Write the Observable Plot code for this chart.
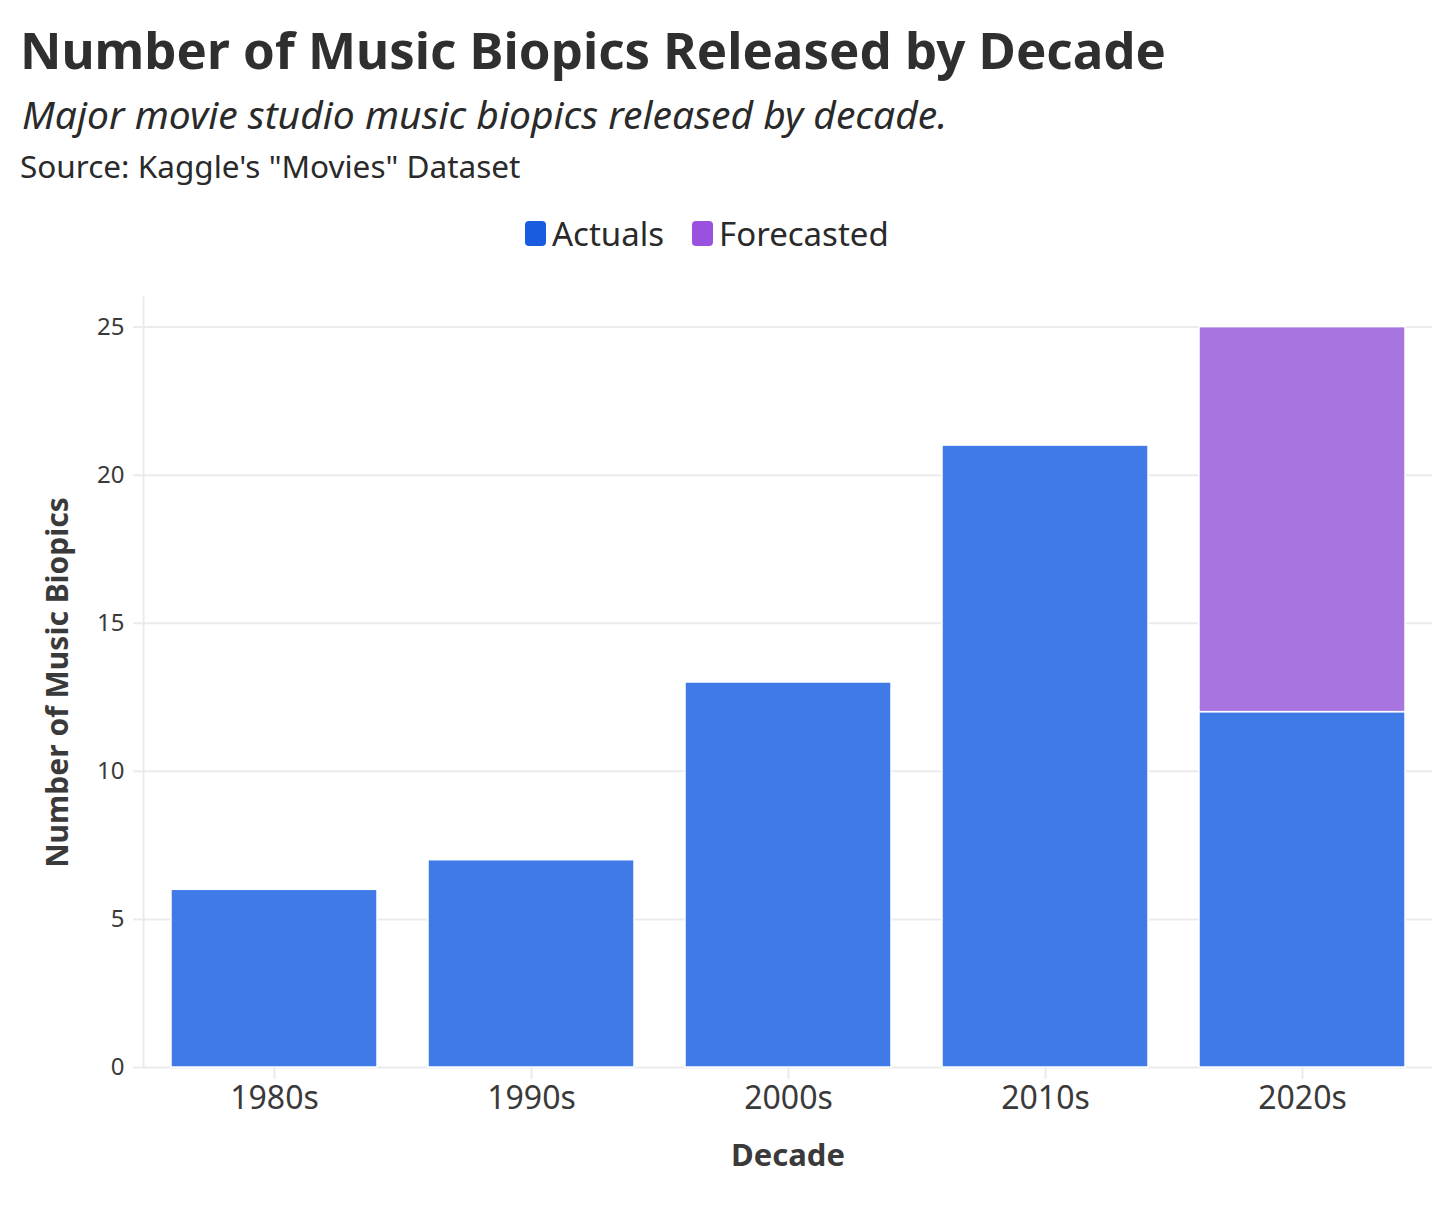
<!DOCTYPE html>
<html><head><meta charset="utf-8">
<script src="https://cdn.jsdelivr.net/npm/d3@7"></script>
<script src="https://cdn.jsdelivr.net/npm/@observablehq/plot@0.6"></script>
<style>
body{margin:0;background:#fff;font-family:"Noto Sans",Roboto,sans-serif;color:#333;}
#wrap{position:relative;width:1456px;height:1210px;overflow:hidden;}
.t{position:absolute;left:20px;white-space:nowrap;line-height:1;}
#title{top:24px;font-size:51px;font-weight:700;color:#2f2f2f;}
#subtitle{top:94px;font-size:39px;font-style:italic;color:#2a2a2a;left:22px;}
#source{top:150px;font-size:31.5px;color:#2a2a2a;}
#legend{position:absolute;top:217px;left:525px;display:flex;align-items:center;font-size:33px;color:#2a2a2a;line-height:1;}
.sw{width:21px;height:25px;border-radius:4px;display:inline-block;margin-right:6px;}
.item{display:flex;align-items:center;margin-right:28px;}
#chart{position:absolute;left:0;top:270px;}
#chart svg{font-family:"Noto Sans",Roboto,sans-serif;}
g[aria-label="y-axis label"] text{font-weight:700;font-size:30px;fill:#3a3a3a;}
g[aria-label="x-axis label"] text{font-weight:700;font-size:31px;fill:#3a3a3a;}
</style></head>
<body><div id="wrap">
<div class="t" id="title">Number of Music Biopics Released by Decade</div>
<div class="t" id="subtitle">Major movie studio music biopics released by decade.</div>
<div class="t" id="source">Source: Kaggle's "Movies" Dataset</div>
<div id="legend"></div>
<div id="chart"></div>
</div>
<script>
const decades = ["1980s","1990s","2000s","2010s","2020s"];
const actuals = [6,7,13,21,12];
const forecasted = [0,0,0,0,13];
const seriesNames = ["Actuals","Forecasted"];
const barColors = ["#3f7ae6","#a874e0"];
const legendColors = ["#1a5ce0","#9b51e0"];
const yTicks = [0,5,10,15,20,25];

const rows = [];
decades.forEach((d,i)=>{
  rows.push({decade:d, type:"Actuals", value:actuals[i]});
  if (forecasted[i] > 0) rows.push({decade:d, type:"Forecasted", value:forecasted[i]});
});

const leg = document.getElementById("legend");
seriesNames.forEach((n,i)=>{
  const it = document.createElement("div"); it.className="item";
  const sw = document.createElement("span"); sw.className="sw"; sw.style.background=legendColors[i];
  it.appendChild(sw); it.appendChild(document.createTextNode(n)); leg.appendChild(it);
});

const chart = Plot.plot({
  width:1456, height:930,
  marginTop:27, marginBottom:133, marginLeft:143, marginRight:24,
  x:{domain:decades, paddingInner:0.2, paddingOuter:0.1},
  y:{domain:[0,26]},
  color:{domain:seriesNames, range:barColors},
  marks:[
    Plot.gridY(yTicks, {stroke:"#ebebeb", strokeOpacity:1, strokeWidth:2}),
    Plot.frame({anchor:"left", stroke:"#ebebeb", strokeOpacity:1, strokeWidth:2}),
    Plot.axisY(yTicks, {tickSize:10, tickPadding:9, fontSize:24, stroke:"#ebebeb", strokeOpacity:1, strokeWidth:2, fill:"#3a3a3a",
      label:"Number of Music Biopics", labelAnchor:"center", labelArrow:false, labelOffset:97}),
    Plot.axisX({tickSize:12, tickPadding:7, fontSize:32, stroke:"#ebebeb", strokeOpacity:1, strokeWidth:2, fill:"#3a3a3a",
      label:"Decade", labelAnchor:"center", labelArrow:false, labelOffset:98}),
    Plot.barY(rows, {x:"decade", y:"value", fill:"type", stroke:"white", strokeWidth:1.5})
  ]
});
document.getElementById("chart").appendChild(chart);
</script>
</body></html>
